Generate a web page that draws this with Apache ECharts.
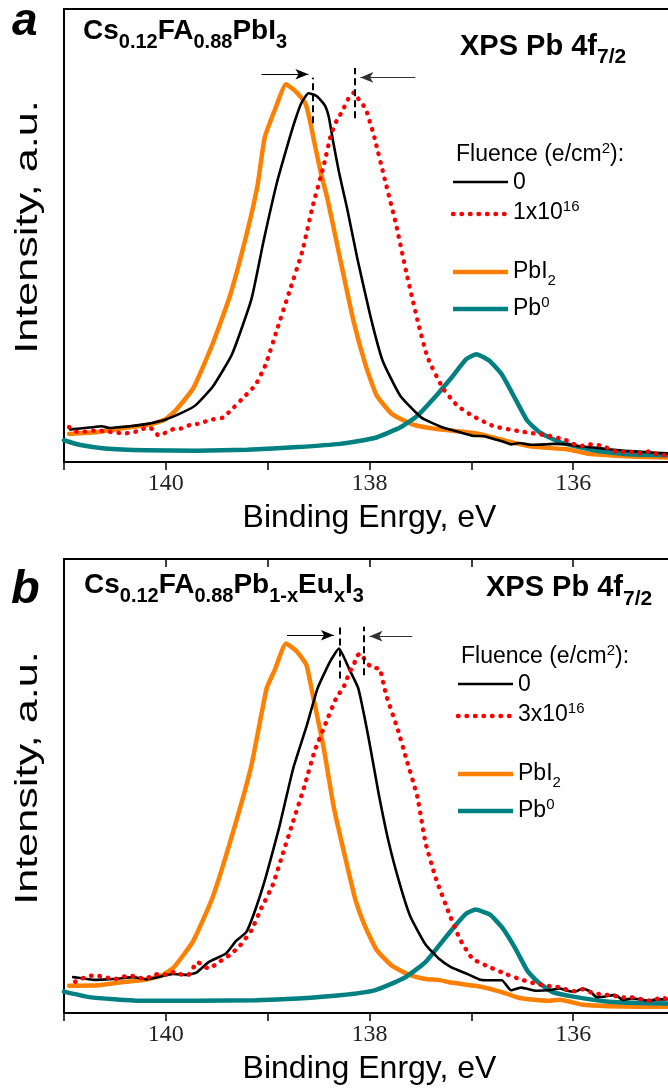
<!DOCTYPE html>
<html>
<head>
<meta charset="utf-8">
<script src="https://cdn.jsdelivr.net/npm/echarts@6/dist/echarts.min.js"></script>
<style>
  html, body { margin: 0; padding: 0; background: #fff; }
  #chart { width: 668px; height: 1090px; }
</style>
</head>
<body>
<div id="chart"></div>
<script>
// Binding energy (eV) / intensity (a.u.) pairs, panel a: Cs0.12FA0.88PbI3
const aPbI2 = [[140.95,6.2],[140.67,6.6],[140.38,7.6],[140.13,8.4],[140.0,9.5],[139.9,11.5],[139.73,16.3],[139.54,26.1],[139.37,36.7],[139.21,50.0],[139.10,61.0],[139.03,71.5],[138.93,77.7],[138.82,83.4],[138.72,81.7],[138.63,79.2],[138.59,75.9],[138.55,71.5],[138.48,64.0],[138.41,57.8],[138.29,45.0],[138.16,31.4],[138.04,21.5],[137.93,14.7],[137.78,10.6],[137.58,8.3],[137.32,7.2],[136.95,6.3],[136.70,4.9],[136.41,3.4],[136.06,2.8],[135.87,1.9],[135.57,1.4],[135.28,1.1],[135.07,1.0]];
const aPb0 = [[141.0,4.8],[140.85,3.8],[140.6,3.0],[140.2,2.6],[139.7,2.5],[139.2,2.7],[138.7,3.3],[138.29,4.0],[137.95,5.3],[137.70,7.6],[137.53,10.2],[137.37,14.0],[137.20,18.5],[137.05,22.7],[136.95,23.8],[136.82,22.3],[136.70,19.3],[136.57,14.0],[136.45,9.1],[136.32,6.4],[136.11,4.2],[135.78,2.5],[135.45,1.7],[135.07,1.5]];
const aFluence0 = [[140.94,7.2],[140.75,7.6],[140.63,7.9],[140.55,7.5],[140.5,7.6],[140.35,7.9],[140.21,8.3],[140.0,9.4],[139.83,11.0],[139.71,12.5],[139.54,16.6],[139.35,23.8],[139.16,35.9],[139.04,48.8],[138.91,61.6],[138.79,71.1],[138.73,75.5],[138.67,79.2],[138.60,81.4],[138.52,80.8],[138.44,78.8],[138.40,76.2],[138.36,71.1],[138.30,64.0],[138.22,56.0],[138.12,45.0],[137.99,32.1],[137.87,22.3],[137.70,14.7],[137.49,9.8],[137.28,7.6],[137.12,6.6],[136.99,5.8],[136.87,5.7],[136.78,5.1],[136.70,4.6],[136.61,3.9],[136.53,4.2],[136.41,3.8],[136.28,3.9],[136.20,4.0],[136.06,3.9],[135.95,3.5],[135.8,3.2],[135.65,2.8],[135.5,2.5],[135.3,2.2],[135.07,1.9]];
const aFluence1e16 = [[140.95,7.7],[140.88,6.7],[140.80,6.7],[140.71,6.9],[140.64,6.9],[140.57,6.7],[140.48,6.5],[140.41,6.3],[140.34,6.5],[140.26,6.9],[140.18,7.7],[140.12,7.1],[140.07,5.8],[140.0,6.5],[139.92,7.3],[139.85,7.4],[139.76,8.2],[139.69,8.4],[139.54,9.4],[139.44,9.8],[139.33,12.1],[139.23,14.4],[139.12,17.0],[139.02,21.5],[138.91,29.1],[138.79,37.4],[138.66,46.5],[138.56,56.3],[138.45,65.4],[138.38,72.1],[138.32,75.5],[138.27,77.3],[138.21,80.1],[138.15,81.6],[138.10,79.8],[138.04,78.1],[137.97,73.1],[137.95,71.5],[137.85,62.4],[137.74,52.5],[137.64,42.0],[137.53,31.4],[137.43,23.1],[137.28,16.3],[137.14,12.5],[136.99,10.2],[136.78,7.9],[136.53,6.8],[136.24,5.8],[136.08,4.9],[136.01,4.1],[135.93,3.5],[135.85,3.9],[135.77,3.8],[135.69,3.4],[135.62,2.6],[135.54,2.1],[135.46,2.4],[135.38,1.9],[135.31,2.1],[135.24,2.4],[135.17,1.6],[135.09,1.5]];

// Panel b: Cs0.12FA0.88Pb1-xEuxI3
const bPbI2 = [[140.95,6.0],[140.67,6.1],[140.46,6.7],[140.21,7.3],[140.04,8.3],[139.92,10.1],[139.73,15.9],[139.54,25.5],[139.33,40.6],[139.16,54.5],[139.01,71.5],[138.93,75.6],[138.82,81.4],[138.72,79.8],[138.62,76.7],[138.57,71.5],[138.45,58.4],[138.35,45.2],[138.24,34.4],[138.14,25.1],[138.04,18.9],[137.93,13.9],[137.78,10.4],[137.62,8.5],[137.45,7.5],[137.32,7.3],[137.20,6.7],[136.91,5.8],[136.70,4.6],[136.53,3.3],[136.24,2.7],[136.13,2.9],[135.90,1.8],[135.65,1.5],[135.36,1.4],[135.07,1.4]];
const bPb0 = [[141.0,4.7],[140.75,3.5],[140.26,2.7],[139.67,2.7],[139.12,2.8],[138.70,3.2],[138.29,3.9],[137.95,5.0],[137.66,7.7],[137.45,11.2],[137.28,15.9],[137.14,19.7],[137.05,21.9],[136.96,22.8],[136.82,21.7],[136.70,18.9],[136.57,14.3],[136.45,9.3],[136.34,6.7],[136.20,4.6],[136.0,3.6],[135.70,2.6],[135.36,2.2],[135.07,2.1]];
const bFluence0 = [[140.91,7.9],[140.81,7.6],[140.71,7.3],[140.58,7.4],[140.45,7.6],[140.32,7.9],[140.19,7.4],[140.06,8.0],[139.93,8.6],[139.80,8.4],[139.70,8.9],[139.58,11.2],[139.41,13.1],[139.31,15.9],[139.21,17.8],[139.12,22.8],[139.02,29.8],[138.89,40.6],[138.75,53.8],[138.62,63.0],[138.51,71.5],[138.39,77.3],[138.30,80.3],[138.20,75.8],[138.11,71.5],[138.01,60.7],[137.91,48.3],[137.81,37.5],[137.70,28.2],[137.60,21.3],[137.45,15.1],[137.32,12.0],[137.20,10.1],[137.03,8.5],[136.91,7.3],[136.82,7.2],[136.70,7.2],[136.61,5.0],[136.51,5.6],[136.36,4.9],[136.24,5.0],[136.13,5.4],[136.06,4.9],[135.98,4.7],[135.91,5.4],[135.83,4.7],[135.77,3.5],[135.67,3.7],[135.59,4.0],[135.51,2.9],[135.43,3.2],[135.34,3.0],[135.26,2.7],[135.18,3.0],[135.08,3.0]];
const bFluence3e16 = [[140.89,6.9],[140.82,7.6],[140.75,8.2],[140.67,8.2],[140.59,7.9],[140.51,7.4],[140.44,7.9],[140.36,8.2],[140.28,8.0],[140.21,7.4],[140.12,8.4],[140.05,8.6],[139.98,8.4],[139.91,9.1],[139.84,8.4],[139.78,8.4],[139.69,11.2],[139.58,9.8],[139.48,11.2],[139.37,12.8],[139.27,14.9],[139.16,18.2],[139.06,23.2],[138.95,28.2],[138.85,35.2],[138.75,42.2],[138.64,49.9],[138.54,57.6],[138.43,63.8],[138.33,69.2],[138.25,72.0],[138.22,73.7],[138.19,75.3],[138.15,77.0],[138.12,78.7],[138.09,79.2],[138.04,77.6],[137.98,76.1],[137.90,75.8],[137.86,72.2],[137.83,69.6],[137.72,62.3],[137.64,56.1],[137.53,47.6],[137.45,37.5],[137.35,29.8],[137.22,22.0],[137.11,16.2],[136.99,12.0],[136.82,10.1],[136.65,8.5],[136.53,7.5],[136.36,6.4],[136.19,5.8],[136.13,5.7],[136.06,5.1],[135.99,4.8],[135.91,5.2],[135.83,4.6],[135.75,4.2],[135.67,4.0],[135.60,3.8],[135.52,3.4],[135.44,3.5],[135.36,3.2],[135.28,2.7],[135.20,2.9],[135.13,3.5],[135.08,3.0]];

// Peak-shift guides: [energy, low, high] and arrows: [from, to, level]
const aPeakGuides = [[138.56,74.8,84.8],[138.14,75.9,87.0]];
const aShiftArrows = [[139.06,138.60,85.6],[137.55,138.09,84.9]];
const bPeakGuides = [[138.29,73.7,85.1],[138.06,74.4,85.1]];
const bShiftArrows = [[138.81,138.35,83.2],[137.58,138.00,83.0]];

// Axis range and labelled ticks
const energyRange = [135, 141];
const energyTickLabels = [136, 138, 140];

const COLORS = { pbi2: '#FF8000', pb0: '#008080', f0: '#000000', fx: '#FF0000' };
const SANS = 'Liberation Sans, Arial, sans-serif';
const SERIF = 'Liberation Serif, Times New Roman, serif';

// The energy axis runs a little past the right edge of the canvas
const grids = [
  { left: 64, top: 9, width: 611, height: 453, outerBoundsMode: 'none', containLabel: false },
  { left: 64, top: 559, width: 611, height: 454, outerBoundsMode: 'none', containLabel: false }
];

function bottomAxis(gridIndex) {
  return {
    type: 'value', gridIndex, position: 'bottom', inverse: true,
    min: energyRange[0], max: energyRange[1], interval: 1,
    name: 'Binding Enrgy, eV', nameLocation: 'middle', nameGap: 40,
    nameTextStyle: { fontFamily: SANS, fontSize: 32, color: '#000' },
    axisLine: { show: true, onZero: false, lineStyle: { color: '#000', width: 2 } },
    axisTick: { show: true, inside: false, length: 8, lineStyle: { color: '#000', width: 1.5 } },
    axisLabel: {
      show: true, margin: 10, fontFamily: SERIF, fontSize: 24, color: '#222',
      formatter: v => (energyTickLabels.includes(v) ? String(v) : '')
    },
    splitLine: { show: false }
  };
}
function topAxis(gridIndex, ticks) {
  return {
    type: 'value', gridIndex, position: 'top', inverse: true,
    min: energyRange[0], max: energyRange[1], interval: 1,
    axisLine: { show: true, onZero: false, lineStyle: { color: '#000', width: 2 } },
    axisTick: { show: ticks, inside: true, length: 8, lineStyle: { color: '#000', width: 1.5 } },
    axisLabel: { show: false }, splitLine: { show: false }
  };
}
function leftAxis(gridIndex) {
  return {
    type: 'value', gridIndex, min: 0, max: 100,
    axisLine: { show: true, onZero: false, lineStyle: { color: '#000', width: 2 } },
    axisTick: { show: false }, axisLabel: { show: false }, splitLine: { show: false }
  };
}

function curve(name, data, xi, yi, color, width, dotted) {
  return {
    name, type: 'line', data, xAxisIndex: xi, yAxisIndex: yi,
    showSymbol: false, symbol: 'none', smooth: 0.15, animation: false, silent: true,
    lineStyle: dotted
      ? { color, width: 4.4, type: [0.5, 8], cap: 'round' }
      : { color, width, cap: 'round', join: 'round' }
  };
}

function guideLines(guides) {
  return {
    silent: true, animation: false, symbol: 'none',
    label: { show: false },
    lineStyle: { color: '#000', width: 2, type: [7, 4] },
    data: guides.map(g => [{ coord: [g[0], g[1]] }, { coord: [g[0], g[2]] }])
  };
}
function arrowLines(arrows) {
  return {
    silent: true, animation: false, symbol: ['none', 'arrow'], symbolSize: [8, 13],
    label: { show: false },
    lineStyle: { color: '#000', width: 1.2, type: 'solid' },
    data: arrows.map((a, i) => [
      { coord: [a[0], a[2]], lineStyle: { color: i === 0 ? '#000' : '#333' }, itemStyle: { color: i === 0 ? '#000' : '#333' } },
      { coord: [a[1], a[2]] }
    ])
  };
}

const panelA = [
  curve('PbI2', aPbI2, 0, 0, COLORS.pbi2, 4.5),
  curve('Pb0', aPb0, 0, 0, COLORS.pb0, 4.5),
  Object.assign(curve('0', aFluence0, 0, 0, COLORS.f0, 2.6), { markLine: guideLines(aPeakGuides) }),
  Object.assign(curve('1x10^16', aFluence1e16, 0, 0, COLORS.fx, 4.4, true), { markLine: arrowLines(aShiftArrows) })
];
const panelB = [
  curve('PbI2', bPbI2, 2, 1, COLORS.pbi2, 4.5),
  curve('Pb0', bPb0, 2, 1, COLORS.pb0, 4.5),
  Object.assign(curve('0', bFluence0, 2, 1, COLORS.f0, 2.6), { markLine: guideLines(bPeakGuides) }),
  Object.assign(curve('3x10^16', bFluence3e16, 2, 1, COLORS.fx, 4.4, true), { markLine: arrowLines(bShiftArrows) })
];

// Rich-text styles for sub/superscripts
const titleRich = {
  sub: { fontSize: 20, fontWeight: 'bold', fontFamily: SANS, fill: '#000', padding: [21, 0, 0, 0] }
};
const xpsRich = {
  sub: { fontSize: 21, fontWeight: 'bold', fontFamily: SANS, fill: '#000', padding: [21, 0, 0, 0] }
};
const legendRich = {
  sup: { fontSize: 15, fontFamily: SANS, fill: '#000', padding: [0, 0, 12, 0] },
  sub: { fontSize: 15, fontFamily: SANS, fill: '#000', padding: [17, 0, 0, 0] }
};

function label(x, y, text, size, weight, style, rich) {
  return {
    type: 'text', x, y, silent: true,
    style: {
      text, fontFamily: SANS, fontSize: size, fontWeight: weight || 'normal',
      fontStyle: style || 'normal', fill: '#000',
      align: 'left', verticalAlign: 'middle', rich: rich || {}
    }
  };
}
function yTitle(cy) {
  return {
    type: 'text', x: 28, y: cy, rotation: Math.PI / 2, scaleX: 1.35, silent: true,
    style: {
      text: 'Intensity, a.u.', fontFamily: SANS, fontSize: 32, fill: '#000',
      align: 'center', verticalAlign: 'middle'
    }
  };
}
function key(x, y, color, width, dotted) {
  return {
    type: 'line', silent: true,
    shape: { x1: x, y1: y, x2: x + 55, y2: y },
    style: dotted
      ? { stroke: color, lineWidth: 4.4, lineDash: [0.5, 8], lineCap: 'round' }
      : { stroke: color, lineWidth: width, lineCap: 'butt' }
  };
}
function legendBlock(dx, dy, fluenceText) {
  return [
    label(456 + dx, 155 + dy, 'Fluence (e/cm{sup|2}):', 23, 'normal', 'normal', legendRich),
    key(453 + dx, 182 + dy, COLORS.f0, 2.6),
    label(513 + dx, 183 + dy, '0', 23),
    key(453 + dx, 214 + dy, COLORS.fx, 4.4, true),
    label(513 + dx, 213 + dy, fluenceText, 23, 'normal', 'normal', legendRich),
    key(453 + dx, 272 + dy, COLORS.pbi2, 4.5),
    label(513 + dx, 272 + dy, 'PbI{sub|2}', 23, 'normal', 'normal', legendRich),
    key(453 + dx, 309 + dy, COLORS.pb0, 4.5),
    label(513 + dx, 309 + dy, 'Pb{sup|0}', 23, 'normal', 'normal', legendRich)
  ];
}

const graphics = [
  label(12, 22, 'a', 46, 'bold', 'italic'),
  label(83, 31.6, 'Cs{sub|0.12}FA{sub|0.88}PbI{sub|3}', 28, 'bold', 'normal', titleRich),
  label(460, 46.8, 'XPS Pb 4f{sub|7/2}', 29, 'bold', 'normal', xpsRich),
  yTitle(227),
  ...legendBlock(0, 0, '1x10{sup|16}'),
  label(11, 590, 'b', 47, 'bold', 'italic'),
  label(84, 585.6, 'Cs{sub|0.12}FA{sub|0.88}Pb{sub|1-x}Eu{sub|x}I{sub|3}', 28, 'bold', 'normal', titleRich),
  label(486, 588.3, 'XPS Pb 4f{sub|7/2}', 29, 'bold', 'normal', xpsRich),
  yTitle(778),
  ...legendBlock(5, 502, '3x10{sup|16}')
];

const chart = echarts.init(document.getElementById('chart'), null, { renderer: 'canvas', width: 668, height: 1090 });
chart.setOption({
  backgroundColor: '#fff',
  animation: false,
  grid: grids,
  xAxis: [bottomAxis(0), topAxis(0, false), bottomAxis(1), topAxis(1, true)],
  yAxis: [leftAxis(0), leftAxis(1)],
  series: [...panelA, ...panelB],
  graphic: graphics
});
</script>
</body>
</html>
